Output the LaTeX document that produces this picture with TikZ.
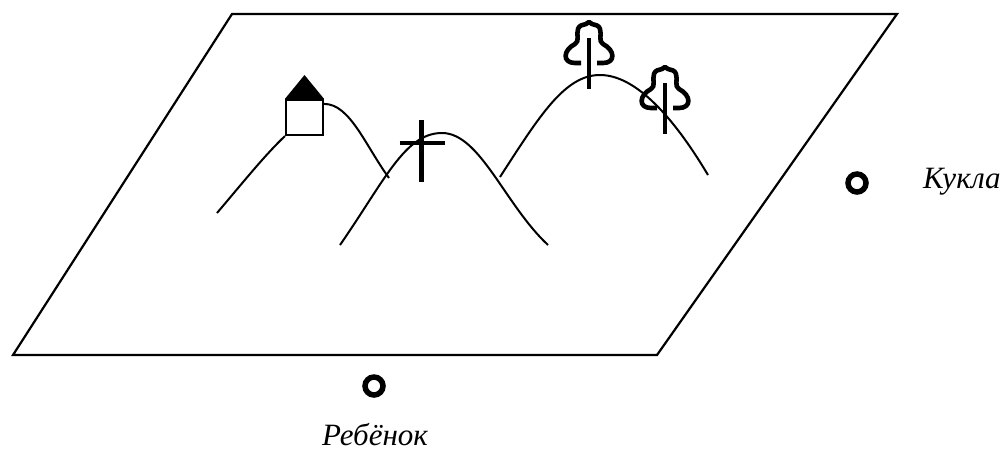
\documentclass[tikz,border=0pt]{standalone}
\usepackage{fontspec}
\setmainfont{Liberation Serif}
\begin{document}
\begin{tikzpicture}[x=1pt,y=-1pt,
  plane/.style={line width=2.2pt},
  hill/.style={line width=2pt},
  symb/.style={line width=4.6pt},
  marker/.style={circle,draw,line width=5.5pt,minimum size=18pt,inner sep=0pt},
  lbl/.style={font=\itshape\fontsize{31}{34}\selectfont,inner sep=0pt},
  tree/.pic={
    \draw[symb,line join=round]
      (-8,41) -- (-14,41) .. controls (-27,41) and (-26,28) .. (-14,22)
      .. controls (-9,19) and (-13,13) .. (-11,7)
      .. controls (-10,3) and (-6,3) .. (-3,2) -- (0,0) -- (3,2)
      .. controls (6,3) and (10,3) .. (11,7)
      .. controls (13,13) and (9,19) .. (14,22)
      .. controls (26,28) and (27,41) .. (14,41) -- (8,41);
    \draw[symb] (0,16) -- (0,67);
  }]
\useasboundingbox (0,0) rectangle (1003,450);

% the ground plane
\coordinate (tl) at (232,14);
\coordinate (tr) at (897,14);
\coordinate (br) at (657,355);
\coordinate (bl) at (13,355);
\draw[plane] (tl) -- (tr) -- (br) -- (bl) -- cycle;

% house on the first hill
\node[draw,line width=2.2pt,minimum width=37pt,minimum height=35pt,inner sep=0pt] (house) at (304.5,117.5) {};
\fill (house.north west) -- (304.5,75) -- (house.north east) -- cycle;

% hills
\coordinate (h1a) at (217,213);
\coordinate (h1b) at (389,178);
\draw[hill] (h1a) .. controls (245,180) and (265,155) .. (house.south west);
\draw[hill] ([yshift=-5pt]house.north east) .. controls (350,104) and (365,145) .. (h1b);

\coordinate (h2a) at (340,245);
\coordinate (h2p) at (442,133);
\coordinate (h2b) at (548,245);
\draw[hill] (h2a) .. controls (385,180) and (405,133) .. (h2p)
  .. controls (480,133) and (505,205) .. (h2b);

\coordinate (h3a) at (500,177);
\coordinate (h3p) at (600,75);
\coordinate (h3b) at (708,175);
\draw[hill] (h3a) .. controls (540,115) and (565,75) .. (h3p)
  .. controls (640,75) and (680,128) .. (h3b);

% cross on the second hill
\coordinate (cr) at (421.5,143);
\draw[symb] ([yshift=23pt]cr) -- ([yshift=-39pt]cr);
\draw[symb] ([xshift=-22pt]cr) -- ([xshift=23pt]cr);

% trees on the third hill
\pic at (589,22) {tree};
\pic at (665,67) {tree};

% observers
\node[marker] (doll) at (857,183) {};
\node[lbl,anchor=base west] (dolltext) at (923,188) {Кукла};
\node[marker] (child) at (374,386) {};
\node[lbl,anchor=base] (childtext) at (375,445) {Ребёнок};
\end{tikzpicture}
\end{document}
